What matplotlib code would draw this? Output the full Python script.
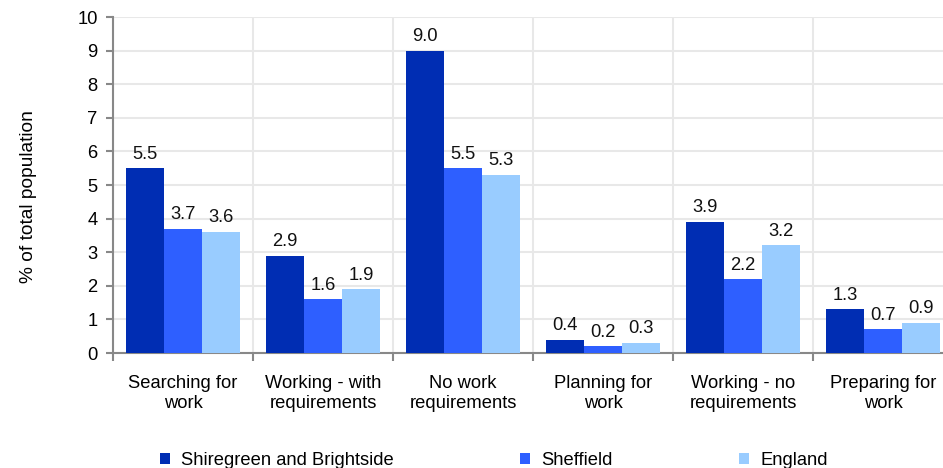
import numpy as np
import matplotlib
matplotlib.use('Agg')
import matplotlib.pyplot as plt

plt.rcParams['font.family'] = ['Liberation Sans', 'DejaVu Sans']

categories = ['Searching for\nwork', 'Working - with\nrequirements', 'No work\nrequirements',
              'Planning for\nwork', 'Working - no\nrequirements', 'Preparing for\nwork']
shiregreen = [5.5, 2.9, 9.0, 0.4, 3.9, 1.3]
sheffield = [3.7, 1.6, 5.5, 0.2, 2.2, 0.7]
england = [3.6, 1.9, 5.3, 0.3, 3.2, 0.9]
series_names = ['Shiregreen and Brightside', 'Sheffield', 'England']
colors = ['#002db3', '#2e5fff', '#99ccff']

fs = 13.2

fig = plt.figure(figsize=(9.43, 4.68), dpi=100)
# axes runs a bit past the right edge, like the original
ax = fig.add_axes([113/943, 1 - 353/468, 840/943, 336/468])

x = np.arange(len(categories))
w = 0.272
for i, (vals, name) in enumerate(zip([shiregreen, sheffield, england], series_names)):
    bars = ax.bar(x + (i - 1) * w, vals, w, color=colors[i], label=name, zorder=3)
    for b, v in zip(bars, vals):
        ax.annotate('%.1f' % v, (b.get_x() + b.get_width() / 2, v),
                    xytext=(0, 4), textcoords='offset points',
                    ha='center', va='bottom', fontsize=fs, color='#111111')

ax.set_xlim(-0.5, 5.5)
ax.set_ylim(0, 10)
ax.set_yticks(range(0, 11))

# boundaries as major ticks, names as minor ticks
ax.set_xticks(np.arange(-0.5, 6, 1))
ax.set_xticklabels([])
ax.set_xticks(x, minor=True)
ax.set_xticklabels(categories, minor=True, fontsize=fs, linespacing=1.2)
ax.tick_params(axis='x', which='minor', length=0, pad=16)
ax.tick_params(axis='x', which='major', length=6, width=1.5, color='#888888')
ax.tick_params(axis='y', length=5, width=1.5, color='#888888', labelsize=fs, pad=6)

ax.grid(True, which='major', color='#e8e8e8', linewidth=1.5, zorder=0)

for s in ['top', 'right']:
    ax.spines[s].set_visible(False)
for s in ['left', 'bottom']:
    ax.spines[s].set_color('#888888')
    ax.spines[s].set_linewidth(1.5)

ax.set_ylabel('% of total population', fontsize=13.8)
ax.yaxis.set_label_coords(-0.0905, 0.467)

fig.legend(loc='center', bbox_to_anchor=(494/943, 0.017), ncol=3, frameon=False,
           fontsize=fs, handlelength=0.55, handleheight=0.55, handletextpad=0.6,
           columnspacing=6.9)

fig.savefig('out.png', dpi=100)
